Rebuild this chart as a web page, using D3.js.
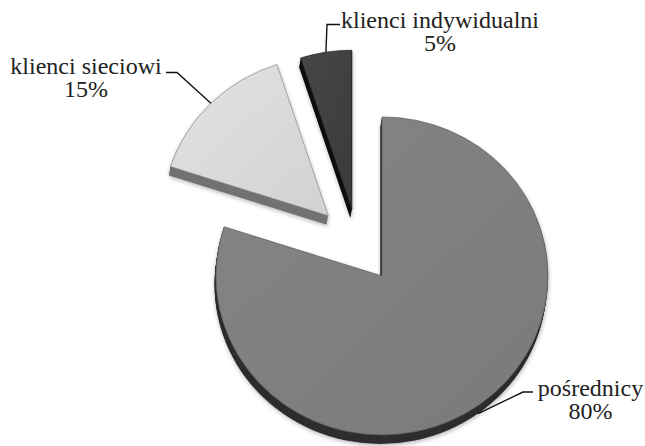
<!DOCTYPE html>
<html>
<head>
<meta charset="utf-8">
<script src="https://cdn.jsdelivr.net/npm/d3@7"></script>
<style>
svg text { font-family: "Liberation Serif", "Times New Roman", Tinos !important; }
</style>
</head>
<body style="margin:0;background:#fff">
<svg id="chart" width="645" height="446" style="display:block" font-family="Liberation Serif"></svg>
<script>
// ---- data ----
const categories = ["pośrednicy", "klienci sieciowi", "klienci indywidualni"];
const values = [80, 15, 5];
const percentLabels = ["80%", "15%", "5%"];

// ---- style / layout ----
const fontFamily = "Liberation Serif";
const fontSize = 24;
const geom = {cx: 357.6, cy: 243.8, rx: 166, ry: 159, depthX: -1.5, depthY: 9, steps: 12};
const explode = [0.25, 0.25, 0.22];
const faceTop = ["#858585", "#e2e2e2", "#474747"];
const faceBottom = ["#7a7a7a", "#d2d2d2", "#3a3a3a"];
const sideColors = ["#2e2e2e", "#727272", "#111111"];
const edgeColors = ["#5c5c5c", "#8c8c8c", "#1e1e1e"];
const anchorOnBase = [true, false, false];
const labelLayout = [
  {x: 590.5, y: 396, elbow: [523, 392], end: [533, 392]},
  {x: 86, y: 74, elbow: [177, 72.5], end: [166, 72.5]},
  {x: 440, y: 28, elbow: [327, 24.5], end: [340, 24.5]}
];
const lineGap = 23;

const svg = d3.select("#chart");
const defs = svg.append("defs");

const shadow = defs.append("filter").attr("id", "sh")
  .attr("x", "-20%").attr("y", "-20%").attr("width", "140%").attr("height", "140%");
shadow.append("feDropShadow").attr("dx", 0.5).attr("dy", 1.5)
  .attr("stdDeviation", 2).attr("flood-color", "#000").attr("flood-opacity", 0.3);

faceTop.forEach((c, i) => {
  const g = defs.append("linearGradient").attr("id", "fg" + i)
    .attr("x1", "0").attr("y1", "0").attr("x2", "1").attr("y2", "1");
  g.append("stop").attr("offset", "0%").attr("stop-color", faceTop[i]);
  g.append("stop").attr("offset", "100%").attr("stop-color", faceBottom[i]);
});

const pie = d3.pie().sort(null).value(d => d)(values);
const arc = d3.arc().innerRadius(0).outerRadius(geom.rx);
const k = geom.ry / geom.rx;

const slices = pie.map((p, i) => {
  const mid = (p.startAngle + p.endAngle) / 2;
  const ox = geom.cx + explode[i] * Math.sin(mid) * geom.rx;
  const oy = geom.cy - explode[i] * Math.cos(mid) * geom.ry;
  return {p, i, mid, ox, oy, d: arc(p)};
});

const gAll = svg.append("g");

// extrusions (sides)
slices.forEach(s => {
  const g = gAll.append("g").attr("filter", "url(#sh)");
  for (let t = geom.steps; t >= 1; t--) {
    const f = t / geom.steps;
    g.append("path")
      .attr("d", s.d)
      .attr("transform", `translate(${s.ox + f * geom.depthX},${s.oy + f * geom.depthY}) scale(1,${k})`)
      .attr("fill", sideColors[s.i]);
  }
});

// faces
slices.forEach(s => {
  gAll.append("path")
    .attr("d", s.d)
    .attr("transform", `translate(${s.ox},${s.oy}) scale(1,${k})`)
    .attr("fill", `url(#fg${s.i})`)
    .attr("stroke", edgeColors[s.i])
    .attr("stroke-width", 0.7)
    .attr("vector-effect", "non-scaling-stroke");
});

// leader lines and labels
slices.forEach(s => {
  const L = labelLayout[s.i];
  let ax = s.ox + Math.sin(s.mid) * geom.rx;
  let ay = s.oy - Math.cos(s.mid) * geom.ry;
  if (anchorOnBase[s.i]) { ax += geom.depthX; ay += geom.depthY; }
  svg.append("path")
    .attr("d", d3.line()([[ax, ay], L.elbow, L.end]))
    .attr("fill", "none").attr("stroke", "#111").attr("stroke-width", 1.4);
  [categories[s.i], percentLabels[s.i]].forEach((txt, j) => {
    svg.append("text")
      .attr("x", L.x).attr("y", L.y + j * lineGap)
      .attr("text-anchor", "middle")
      .attr("font-family", fontFamily)
      .attr("font-size", fontSize)
      .attr("fill", "#222")
      .text(txt);
  });
});
</script>
</body>
</html>
